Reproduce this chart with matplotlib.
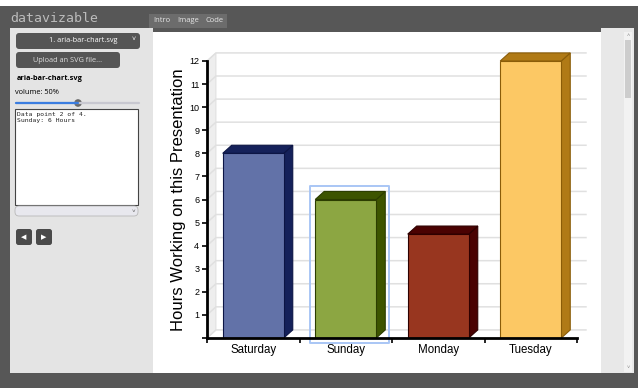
import matplotlib.pyplot as plt
from matplotlib.patches import Polygon, Rectangle, FancyBboxPatch, Circle

plt.rcParams['font.family'] = ['Liberation Sans', 'DejaVu Sans']

# chart data
categories = ['Saturday', 'Sunday', 'Monday', 'Tuesday']
hours = [8, 6, 4.5, 12]
front_colors = ['#6272a8', '#8ca642', '#98361f', '#fcc864']
side_colors = ['#15215a', '#3d5400', '#4a0202', '#b07a16']
edge_colors = ['#0c1545', '#2c3d00', '#2e0000', '#8a5c08']
y_ticks = list(range(0, 13))
focus = 1  # "Data point 2 of 4"
status_text = 'Data point 2 of 4.\nSunday: 6 Hours'

BAR_W = 0.66
DX, DY = 0.097, 0.35  # fake 3d depth, data units

W, H = 638, 388
fig = plt.figure(figsize=(W / 100, H / 100), dpi=100)
fig.patch.set_facecolor('#575757')

# --- page around the chart (pixel coords) ---
ui = fig.add_axes([0, 0, 1, 1])
ui.set_xlim(0, W)
ui.set_ylim(H, 0)
ui.axis('off')


def box(x0, y0, x1, y1, fc, ec='none', lw=0, r=0):
    if r:
        p = FancyBboxPatch((x0, y0), x1 - x0, y1 - y0, fc=fc, ec=ec, lw=lw,
                           boxstyle=f'round,pad=0,rounding_size={r}')
    else:
        p = Rectangle((x0, y0), x1 - x0, y1 - y0, fc=fc, ec=ec, lw=lw)
    ui.add_patch(p)


box(0, 0, W, 6, 'white')
box(10, 28, 153, 373, '#e4e4e4')
box(153, 32, 601, 373, 'white')
box(601, 28, 634, 373, '#e8e8e8')
ui.text(10, 18, 'datavizable', color='#bcbcbc', fontsize=9.5,
        family='DejaVu Sans Mono', va='center')
box(149, 14, 227, 28, '#6c6c6c')
for tx, lab in [(153, 'Intro'), (177, 'Image'), (205, 'Code')]:
    ui.text(tx, 21, lab, color='#e6e6e6', fontsize=5.5, family='Open Sans', va='center')

box(16, 33, 140, 49, '#555555', r=3)
ui.text(83, 41, '1. aria-bar-chart.svg', color='white', fontsize=5.3,
        family='Open Sans', ha='center', va='center')
ui.text(134, 40, '˅', color='white', fontsize=5, ha='center', va='center')
box(16, 52, 120, 68, '#555555', r=3)
ui.text(68, 60, 'Upload an SVG file...', color='#dddddd', fontsize=5.3,
        family='Open Sans', ha='center', va='center')
ui.text(17, 78, 'aria-bar-chart.svg', color='black', fontsize=5.3,
        family='Open Sans', weight='bold', va='center')
ui.text(15, 93, 'volume: 50%', color='black', fontsize=5.3,
        family='Open Sans', va='center')
ui.plot([16, 139], [103, 103], color='#c8c8d0', lw=1.6, solid_capstyle='round')
ui.plot([16, 78], [103, 103], color='#3a7de0', lw=1.6, solid_capstyle='round')
ui.add_patch(Circle((78, 103), 3.8, fc='#686868'))
box(15, 109, 138, 205, 'white', ec='#444444', lw=0.8)
ui.text(17, 112, status_text, color='#222222', fontsize=4.6,
        family='DejaVu Sans Mono', va='top', linespacing=1.3)
box(15, 206, 138, 216, '#e8e8ee', ec='#b8b8b8', lw=0.6, r=4)
ui.text(133, 211, '˅', color='#555555', fontsize=4.5, ha='center', va='center')
for bx, tri in [(16, '◀'), (36, '▶')]:
    box(bx, 229, bx + 16, 245, '#4a4a4a', r=2.5)
    ui.text(bx + 8, 237, tri, color='white', fontsize=5, ha='center', va='center',
            family='DejaVu Sans')
box(624, 32, 632, 372, '#f2f2f2')
box(625, 40, 631, 98, '#cdcdcd')
ui.text(628, 35, '˄', color='#888888', fontsize=4, ha='center', va='center')
ui.text(628, 368, '˅', color='#888888', fontsize=4, ha='center', va='center')

# --- chart ---
ax = fig.add_axes([207 / W, (H - 338) / H, 370 / W, 277 / H])
ax.patch.set_alpha(0)
n = len(categories)
xs = list(range(n))
ax.set_xlim(-0.5, n - 0.5)
ax.set_ylim(0, 12)

# side wall and back grid
left, right = -0.5, n - 0.5
ax.add_patch(Polygon([(left, 0), (left + DX, DY), (left + DX, 12 + DY), (left, 12)],
                     fc='#eeeeee', ec='#dcdcdc', lw=0.6, clip_on=False, zorder=1))
for v in y_ticks:
    ax.plot([left, left + DX, right + DX], [v, v + DY, v + DY], color='#e0e0e0',
            lw=1.1, clip_on=False, zorder=1.5)

for i, v, fc, sc, ec in zip(xs, hours, front_colors, side_colors, edge_colors):
    x0, x1 = i - BAR_W / 2, i + BAR_W / 2
    ax.add_patch(Polygon([(x1, 0), (x1 + DX, DY), (x1 + DX, v + DY), (x1, v)],
                         fc=sc, ec=ec, lw=0.8, clip_on=False, zorder=3))
    ax.add_patch(Polygon([(x0, v), (x0 + DX, v + DY), (x1 + DX, v + DY), (x1, v)],
                         fc=sc, ec=ec, lw=0.8, clip_on=False, zorder=3))
ax.bar(xs, hours, BAR_W, color=front_colors, edgecolor=edge_colors, lw=0.8, zorder=4)

# focus ring on the current data point
fx0 = xs[focus] - BAR_W / 2 - 0.06
fx1 = xs[focus] + BAR_W / 2 + DX + 0.04
ax.add_patch(Rectangle((fx0, -0.22), fx1 - fx0, hours[focus] + DY + 0.46,
                       fill=False, ec='#a9c6f5', lw=1.4, joinstyle='round',
                       clip_on=False, zorder=5))

for s in ['top', 'right']:
    ax.spines[s].set_visible(False)
for s in ['left', 'bottom']:
    ax.spines[s].set_linewidth(2)
    ax.spines[s].set_zorder(6)

ax.set_yticks(y_ticks)
ax.set_yticklabels(['' if v == 0 else str(v) for v in y_ticks], fontsize=6.5)
ax.tick_params(axis='y', length=3.6, width=1.2, pad=2)
ax.set_xticks([x - 0.5 for x in xs] + [right])
ax.set_xticklabels([])
ax.tick_params(axis='x', length=3.6, width=1.2)
ax.set_xticks(xs, minor=True)
ax.set_xticklabels(categories, minor=True, fontsize=8.3)
ax.tick_params(axis='x', which='minor', length=0, pad=4)

ax.text(-0.078, 0.5, 'Hours Working on this Presentation', transform=ax.transAxes,
        rotation=90, ha='center', va='center', fontsize=12)

fig.savefig('out.png', dpi=100, facecolor=fig.get_facecolor())
